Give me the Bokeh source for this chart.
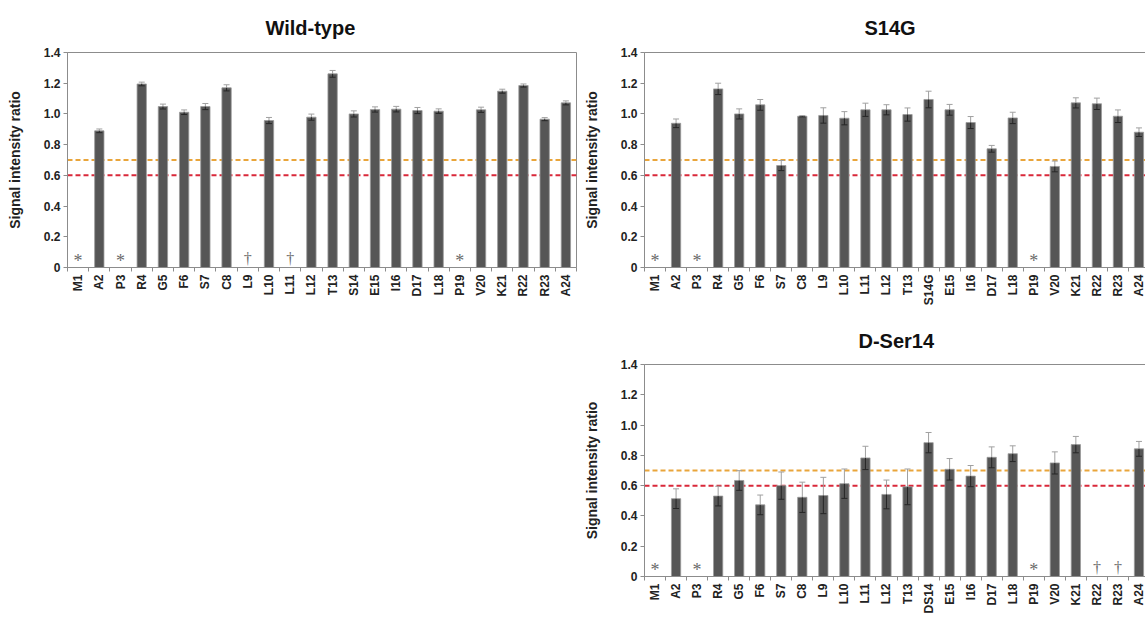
import math
from bokeh.plotting import figure
from bokeh.models import ColumnDataSource, Range1d, FixedTicker, Whisker, TeeHead, Span
from bokeh.layouts import row, column
from bokeh.embed import file_html
from bokeh.resources import INLINE
from bokeh.core.properties import value

# ---------------- data ----------------
wt_labels = ["M1", "A2", "P3", "R4", "G5", "F6", "S7", "C8", "L9", "L10", "L11", "L12",
             "T13", "S14", "E15", "I16", "D17", "L18", "P19", "V20", "K21", "R22", "R23", "A24"]
s14g_labels = ["M1", "A2", "P3", "R4", "G5", "F6", "S7", "C8", "L9", "L10", "L11", "L12",
               "T13", "S14G", "E15", "I16", "D17", "L18", "P19", "V20", "K21", "R22", "R23", "A24"]
dser_labels = ["M1", "A2", "P3", "R4", "G5", "F6", "S7", "C8", "L9", "L10", "L11", "L12",
               "T13", "DS14", "E15", "I16", "D17", "L18", "P19", "V20", "K21", "R22", "R23", "A24"]

wt_values = [None, 0.890, None, 1.195, 1.048, 1.011, 1.048, 1.170, None, 0.957, None, 0.979,
             1.261, 1.000, 1.029, 1.031, 1.022, 1.018, None, 1.027, 1.148, 1.185, 0.966, 1.072]
wt_errors = [None, 0.012, None, 0.012, 0.016, 0.015, 0.020, 0.020, None, 0.020, None, 0.020,
             0.022, 0.020, 0.017, 0.018, 0.020, 0.015, None, 0.017, 0.013, 0.010, 0.010, 0.013]
wt_mark_pos = [0, 2, 8, 10, 18]
wt_mark_sym = ["*", "*", "\u2020", "\u2020", "*"]

s14g_values = [None, 0.939, None, 1.163, 1.000, 1.059, 0.664, 0.985, 0.990, 0.972, 1.027, 1.027,
               0.996, 1.094, 1.027, 0.944, 0.773, 0.974, None, 0.658, 1.072, 1.066, 0.985, 0.881]
s14g_errors = [None, 0.028, None, 0.037, 0.033, 0.035, 0.033, 0.004, 0.050, 0.043, 0.043, 0.033,
               0.043, 0.054, 0.035, 0.039, 0.022, 0.037, None, 0.035, 0.033, 0.037, 0.041, 0.028]
s14g_mark_pos = [0, 2, 18]
s14g_mark_sym = ["*", "*", "*"]

dser_values = [None, 0.514, None, 0.531, 0.634, 0.473, 0.600, 0.523, 0.535, 0.613, 0.783, 0.542,
               0.592, 0.884, 0.708, 0.663, 0.787, 0.811, None, 0.750, 0.871, None, None, 0.843]
dser_errors = [None, 0.065, None, 0.065, 0.065, 0.065, 0.090, 0.100, 0.120, 0.097, 0.077, 0.095,
               0.118, 0.067, 0.071, 0.070, 0.069, 0.052, None, 0.073, 0.054, None, None, 0.049]
dser_mark_pos = [0, 2, 18, 21, 22]
dser_mark_sym = ["*", "*", "*", "\u2020", "\u2020"]

y_ticks = [0, 0.2, 0.4, 0.6, 0.8, 1.0, 1.2, 1.4]
y_tick_labels = ["0", "0.2", "0.4", "0.6", "0.8", "1.0", "1.2", "1.4"]
threshold_high = 0.7
threshold_low = 0.6

FONT = "Liberation Sans"
AXIS_COL = "#8c8c8c"
BAR_COL = "#565656"


def make_panel(title, labels, values, errors, mark_pos, mark_sym,
               left, right, top, frame_w, frame_h, title_offset, title_standoff):
    p = figure(frame_width=frame_w, frame_height=frame_h,
               output_backend="svg", toolbar_location=None,
               x_range=Range1d(-0.5, len(labels) - 0.5), y_range=Range1d(0, 1.4),
               min_border_left=left, min_border_right=right, min_border_top=top,
               min_border_bottom=0, title=title)
    p.title.align = "left"
    p.title.text_font = FONT
    p.title.text_font_size = "20px"
    p.title.text_font_style = "bold"
    p.title.text_color = "#111111"
    p.title.standoff = title_standoff
    p.title.offset = title_offset

    idx = [i for i, v in enumerate(values) if v is not None]
    src = ColumnDataSource(dict(
        x=idx,
        value=[values[i] for i in idx],
        upper=[values[i] + errors[i] for i in idx],
        lower=[values[i] - errors[i] for i in idx],
    ))

    p.add_layout(Span(location=threshold_high, dimension="width", line_color="#E9A53B",
                      line_width=2, line_dash="5 3", level="underlay"))
    p.add_layout(Span(location=threshold_low, dimension="width", line_color="#D9283A",
                      line_width=2, line_dash="5 3", level="underlay"))

    p.vbar(x="x", top="value", bottom=0, width=0.44, source=src,
           fill_color=BAR_COL, line_color="#9a9a9a", line_width=0.8)

    p.add_layout(Whisker(source=src, base="x", upper="upper", lower="value",
                         dimension="height", line_color="#a0a0a0", line_width=1,
                         upper_head=TeeHead(size=6, line_color="#a0a0a0", line_width=1),
                         lower_head=None, level="annotation"))
    p.add_layout(Whisker(source=src, base="x", upper="value", lower="lower",
                         dimension="height", line_color="#262626", line_width=1,
                         upper_head=None,
                         lower_head=TeeHead(size=6, line_color="#262626", line_width=1),
                         level="annotation"))

    ast = ColumnDataSource(dict(x=[m for m, s in zip(mark_pos, mark_sym) if s == "*"],
                                t=[s for s in mark_sym if s == "*"]))
    dag = ColumnDataSource(dict(x=[m for m, s in zip(mark_pos, mark_sym) if s != "*"],
                                t=[s for s in mark_sym if s != "*"]))
    p.text(x="x", y=0, text="t", source=ast, text_font=value("Liberation Serif"),
           text_font_size="18px", text_color="#6a6a6a", text_align="center",
           text_baseline="alphabetic", y_offset=-7)
    p.text(x="x", y=0, text="t", source=dag, text_font=value("Liberation Serif"),
           text_font_size="16px", text_color="#6a6a6a", text_align="center",
           text_baseline="alphabetic", y_offset=-9)

    p.xgrid.visible = False
    p.ygrid.visible = False
    p.outline_line_color = AXIS_COL
    p.outline_line_width = 1

    xa = p.xaxis[0]
    xa.ticker = FixedTicker(ticks=list(range(len(labels))),
                            minor_ticks=[i - 0.5 for i in range(len(labels) + 1)])
    xa.major_label_overrides = {i: lab for i, lab in enumerate(labels)}
    xa.major_label_orientation = math.pi / 2
    xa.major_tick_out = 0
    xa.major_tick_in = 0
    xa.minor_tick_out = 4
    xa.minor_tick_in = 0
    xa.minor_tick_line_color = AXIS_COL
    xa.axis_line_color = AXIS_COL
    xa.major_label_standoff = 3
    xa.major_label_text_font = FONT
    xa.major_label_text_font_style = "bold"
    xa.major_label_text_font_size = "12px"
    xa.major_label_text_color = "#222222"

    ya = p.yaxis[0]
    ya.ticker = FixedTicker(ticks=y_ticks)
    ya.major_label_overrides = {t: l for t, l in zip(y_ticks, y_tick_labels)}
    ya.major_tick_out = 4
    ya.major_tick_in = 0
    ya.minor_tick_out = 0
    ya.minor_tick_in = 0
    ya.major_tick_line_color = AXIS_COL
    ya.axis_line_color = AXIS_COL
    ya.major_label_standoff = 3
    ya.major_label_text_font = FONT
    ya.major_label_text_font_style = "bold"
    ya.major_label_text_font_size = "12px"
    ya.major_label_text_color = "#222222"
    ya.axis_label = "Signal intensity ratio"
    ya.axis_label_text_font = FONT
    ya.axis_label_text_font_style = "bold"
    ya.axis_label_text_font_size = "14px"
    ya.axis_label_text_color = "#222222"
    ya.axis_label_standoff = 18
    return p


wt = make_panel("Wild-type", wt_labels, wt_values, wt_errors, wt_mark_pos, wt_mark_sym,
                67, 4, 52, 509, 215, 198, 27)
s14g = make_panel("S14G", s14g_labels, s14g_values, s14g_errors, s14g_mark_pos, s14g_mark_sym,
                  60, 0, 52, 505, 215, 220, 27)
dser = make_panel("D-Ser14", dser_labels, dser_values, dser_errors, dser_mark_pos, dser_mark_sym,
                  60, 0, 56, 505, 212, 214, 26)

layout = row(wt, column(s14g, dser))
open("out.html", "w").write(file_html(layout, INLINE))
